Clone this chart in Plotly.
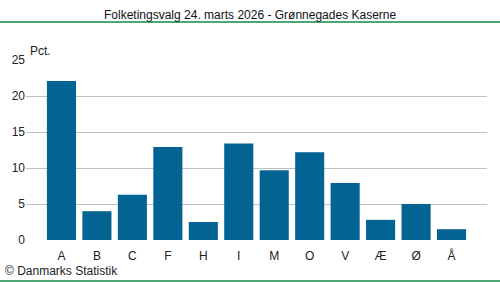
import plotly.graph_objects as go

categories = ["A", "B", "C", "F", "H", "I", "M", "O", "V", "Æ", "Ø", "Å"]
values = [22.1, 4.0, 6.3, 12.9, 2.5, 13.4, 9.7, 12.2, 7.9, 2.8, 5.0, 1.5]
y_ticks = [0, 5, 10, 15, 20, 25]

title = "Folketingsvalg 24. marts 2026 - Grønnegades Kaserne"
unit = "Pct."
source = "© Danmarks Statistik"

FONT = "Liberation Sans, Arial, sans-serif"

fig = go.Figure(go.Bar(
    x=list(range(len(categories))), y=values,
    marker=dict(color="#036493", line=dict(width=0)),
    width=0.82,
))

fig.update_layout(
    width=500, height=282,
    margin=dict(l=26, r=13, t=60, b=42),
    paper_bgcolor="white", plot_bgcolor="white",
    showlegend=False,
    font=dict(family=FONT, size=12, color="#222222"),
    xaxis=dict(
        range=[-1, 12], tickmode="array",
        tickvals=list(range(len(categories))), ticktext=categories,
        showgrid=False, zeroline=False, showline=False, ticks="",
        ticklabelstandoff=7,
        tickfont=dict(size=12, color="#222222"),
    ),
    yaxis=dict(
        range=[0, 25], tickmode="array", tickvals=y_ticks,
        showgrid=True, gridcolor="#bfbfc8", gridwidth=1,
        zeroline=False, showline=False, ticks="",
        tickfont=dict(size=12, color="#222222"),
    ),
    annotations=[
        dict(text=title, x=0.5, y=15, xref="paper", yref="paper",
             showarrow=False, font=dict(size=12, color="#111111")),
        dict(text=unit, x=28, y=51, xref="paper", yref="paper",
             showarrow=False, xanchor="left", font=dict(size=12, color="#222222")),
        dict(text=source, x=3, y=271, xref="paper", yref="paper",
             showarrow=False, xanchor="left", font=dict(size=12, color="#222222")),
    ],
)

# convert pixel annotation positions into paper coordinates
pw, ph = 500 - 26 - 13, 282 - 60 - 42
new_ann = []
for a in fig.layout.annotations:
    px, py = a.x, a.y
    if a.text == title:
        px = 250
    a.x = (px - 26) / pw
    a.y = 1 - (py - 60) / ph
    a.yanchor = "middle"
    new_ann.append(a)
fig.layout.annotations = new_ann

def hline(ypix, color):
    yp = 1 - (ypix - 60) / ph
    return dict(type="line", xref="paper", yref="paper",
                x0=-26 / pw, x1=(500 - 26) / pw, y0=yp, y1=yp,
                line=dict(color=color, width=1.5))

fig.update_layout(shapes=[hline(22, "#108a47"), hline(281, "#108a47")])

fig.write_html("out.html")
